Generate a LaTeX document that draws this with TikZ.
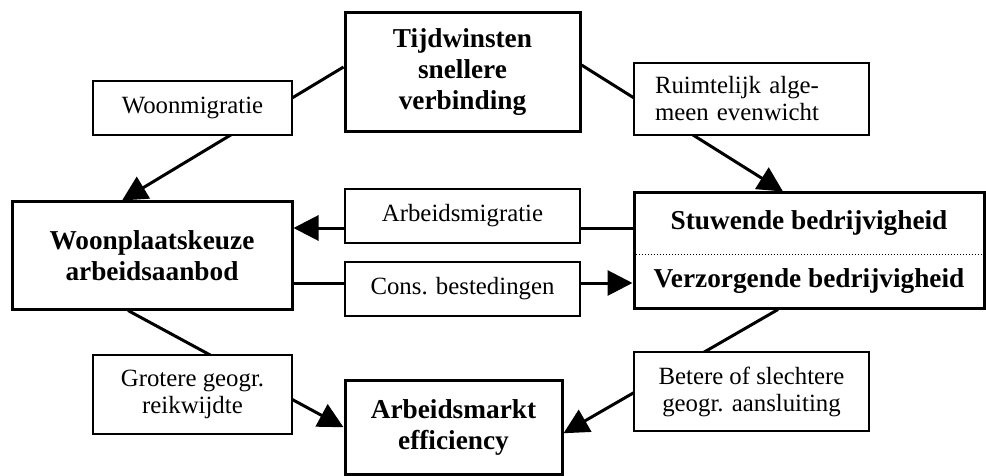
\documentclass[tikz,border=0pt]{standalone}
\usepackage{fontspec}
\setmainfont{Liberation Serif}
\usetikzlibrary{arrows.meta,backgrounds}

\begin{document}
\begin{tikzpicture}[x=1pt,y=-1pt,
    kop/.style={inner sep=0pt,align=center,font=\fontsize{27.3}{31}\selectfont\bfseries},
    hoofd/.style={kop,draw,line width=3pt,fill=white},
    effect/.style={draw,line width=1.5pt,fill=white,inner sep=0pt,align=center,font=\fontsize{24.8}{27}\selectfont},
    pijl/.style={line width=3pt,-{Triangle[length=25pt,width=25pt]}},
    lijn/.style={line width=3pt}]
  \useasboundingbox (0,0) rectangle (986,476);
  \node[hoofd,minimum width=235pt,minimum height=119pt] (tijd) at (462.5,72.5) {Tijdwinsten\\snellere\\verbinding};
  \node[hoofd,minimum width=280pt,minimum height=107pt] (wpk) at (152,255.5) {Woonplaatskeuze\\arbeidsaanbod};
  \node[hoofd,minimum width=350pt,minimum height=115pt] (bedr) at (809,250.5) {};
  \node[kop] (stuw) at (809,223.5) {Stuwende bedrijvigheid};
  \node[kop] (verz) at (809,281) {Verzorgende bedrijvigheid};
  \node[hoofd,minimum width=217pt,minimum height=94.5pt] (arm) at (453.5,427.25) {Arbeidsmarkt\\efficiency};
  \coordinate (scheiding) at (809,254);
  \draw[line width=1pt,dash pattern=on 1pt off 2pt] (scheiding -| bedr.west) -- (scheiding -| bedr.east);

  \node[effect,minimum width=199pt,minimum height=54pt] (woonmig) at (192.5,108) {Woonmigratie};
  \node[effect,text width=193pt,inner xsep=21pt,align=left,minimum height=72pt] (ruimte) at (751.5,99) {Ruimtelijk alge-\\meen evenwicht};
  \node[effect,minimum width=235pt,minimum height=54pt] (arbmig) at (462.5,216) {Arbeidsmigratie};
  \node[effect,minimum width=235pt,minimum height=54pt] (consbest) at (462.5,289) {Cons. bestedingen};
  \node[effect,minimum width=199pt,minimum height=79pt] (reikw) at (192.5,394.5) {Grotere geogr.\\reikwijdte};
  \node[effect,minimum width=235pt,minimum height=79pt] (aansl) at (751.5,391.5) {Betere of slechtere\\geogr. aansluiting};

  \begin{scope}[on background layer]
    \coordinate (am) at ([yshift=22.5pt]bedr.west);
    \coordinate (cb) at ([yshift=-27.5pt]wpk.east);
    \draw[pijl] ([yshift=5.5pt]tijd.west) -- ([xshift=-30pt]wpk.north);
    \draw[pijl] ([yshift=7.5pt]tijd.east) -- ([xshift=-26pt]bedr.north);
    \draw[pijl] (am) -- (am -| wpk.east);
    \draw[pijl] (cb) -- (cb -| bedr.west);
    \draw[pijl] ([xshift=-24pt]wpk.south) -- (arm.west);
    \draw[pijl] ([xshift=-31pt]bedr.south) -- ([yshift=-6pt]arm.east);
  \end{scope}
\end{tikzpicture}
\end{document}
